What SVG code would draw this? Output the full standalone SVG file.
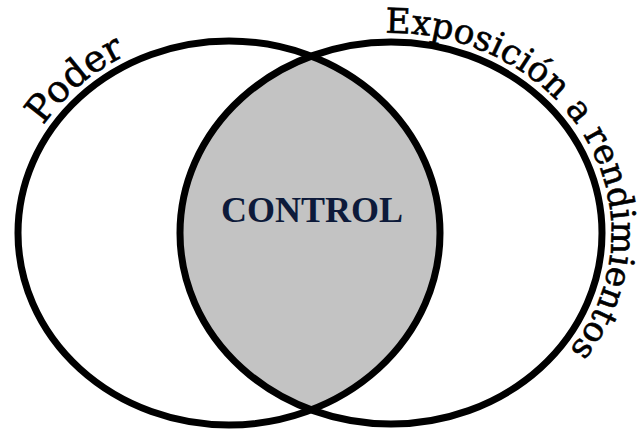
<svg xmlns="http://www.w3.org/2000/svg" width="644" height="434" viewBox="0 0 644 434">
<style>
.ring{fill:none;stroke:#000;stroke-width:7}
.arc{font-family:"DejaVu Serif","Liberation Serif",serif;fill:#000;stroke:#000;stroke-width:0.6}
.ctrl{font-family:"Liberation Serif","Times New Roman",serif;font-weight:bold;fill:#0d1a3a}
</style>
<defs>
<clipPath id="clipL"><ellipse cx="229" cy="233" rx="211" ry="192"/></clipPath>
<path id="pPoder" d="M16.5,181 A220,201 0 0 1 339,59"/>
<path id="pExpo" d="M383.3,33.1 A220,200 0 0 1 429.2,430"/>
</defs>
<rect width="644" height="434" fill="#fff"/>
<g id="control">
<ellipse cx="391" cy="233" rx="211" ry="191" fill="#c3c3c3" clip-path="url(#clipL)"/>
<text class="ctrl" x="312" y="222" font-size="36" text-anchor="middle">CONTROL</text>
</g>
<g id="poder">
<ellipse class="ring" cx="229" cy="233" rx="211" ry="192"/>
<text class="arc" font-size="37"><textPath href="#pPoder" startOffset="62">Poder</textPath></text>
</g>
<g id="exposicion">
<ellipse class="ring" cx="391" cy="233" rx="211" ry="191"/>
<text class="arc" font-size="34.5"><textPath href="#pExpo" startOffset="2">Exposición a rendimientos</textPath></text>
</g>
<g id="connectors"></g>
</svg>
